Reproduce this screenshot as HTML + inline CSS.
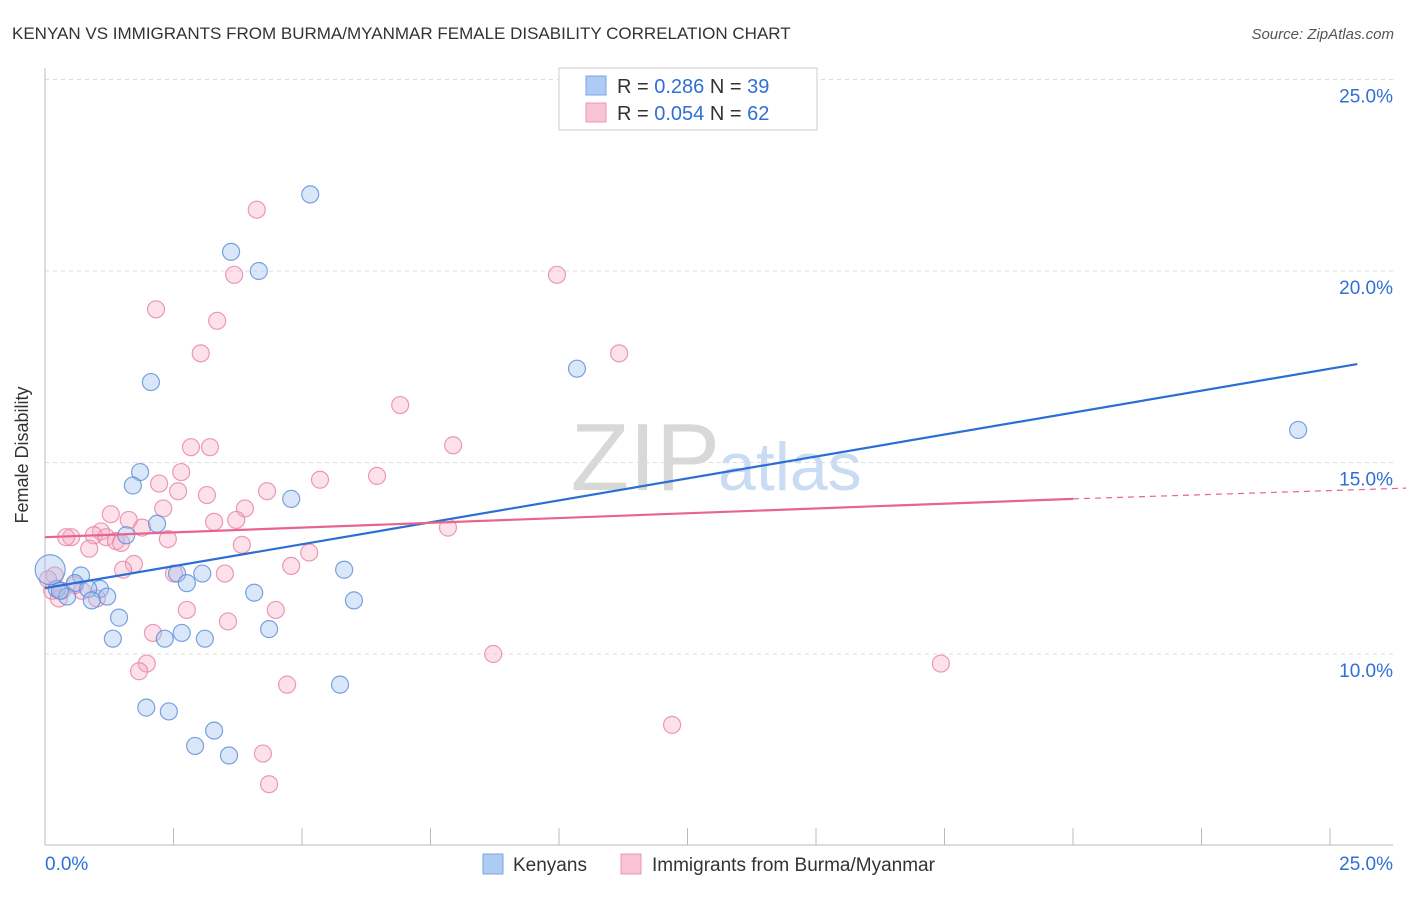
<!DOCTYPE html>
<html><head><meta charset="utf-8"><style>
body{margin:0;background:#fff;font-family:"Liberation Sans",sans-serif;}
svg text{font-family:"Liberation Sans",sans-serif;}
</style></head><body>
<svg id="c" width="1406" height="892" xmlns="http://www.w3.org/2000/svg">
<text x="12" y="39" font-size="17" fill="#333">KENYAN VS IMMIGRANTS FROM BURMA/MYANMAR FEMALE DISABILITY CORRELATION CHART</text>
<text x="1394" y="39" font-size="15" fill="#555" font-style="italic" text-anchor="end">Source: ZipAtlas.com</text>
<text x="720" y="490" font-size="96" fill="#d8d8d8" font-family="Liberation Serif" text-anchor="end">ZIP</text>
<text x="718" y="490" font-size="68" fill="#c9dcf3">atlas</text>
<g id="grid"></g>
<g id="axes"></g>
<g id="pts"></g>
<g id="lines"></g>
<text x="28" y="455" font-size="18" fill="#333" transform="rotate(-90 28 455)" text-anchor="middle">Female Disability</text>
<g>
<rect x="559" y="68" width="258" height="62" fill="#fff" stroke="#ccc"/>
<rect x="586" y="76" width="20" height="19" fill="#aecbf5" stroke="#7aa6e0"/>
<rect x="586" y="103" width="20" height="19" fill="#f8c3d3" stroke="#e897b3"/>
<text x="617" y="93" font-size="20" fill="#333">R = <tspan fill="#2f6fd6">0.286</tspan>   N = <tspan fill="#2f6fd6">39</tspan></text>
<text x="617" y="120" font-size="20" fill="#333">R = <tspan fill="#2f6fd6">0.054</tspan>   N = <tspan fill="#2f6fd6">62</tspan></text>
</g>
<g>
<rect x="483" y="854" width="20" height="20" fill="#aecbf5" stroke="#7aa6e0"/>
<text x="513" y="871" font-size="19" fill="#333">Kenyans</text>
<rect x="621" y="854" width="20" height="20" fill="#f8c3d3" stroke="#e897b3"/>
<text x="652" y="871" font-size="19" fill="#333">Immigrants from Burma/Myanmar</text>
</g>
</svg>
<script>
const yTicks=[10,15,20,25];
const yTickLabels=["10.0%","15.0%","20.0%","25.0%"];
const xTickLabels=["0.0%","25.0%"];
const kenyanX=[5.16,3.62,4.16,2.06,10.35,24.38,1.85,1.71,4.79,2.18,1.58,5.82,2.57,3.06,2.76,4.07,6.01,0.70,0.58,1.07,0.84,0.23,0.43,1.21,0.91,1.44,1.32,2.33,2.66,3.11,4.36,5.74,1.97,2.41,3.29,2.92,3.58,0.10,0.29];
const kenyanY=[22.0,20.5,20.0,17.1,17.45,15.85,14.75,14.4,14.05,13.4,13.1,12.2,12.1,12.1,11.85,11.6,11.4,12.05,11.85,11.7,11.7,11.7,11.5,11.5,11.4,10.95,10.4,10.4,10.55,10.4,10.65,9.2,8.6,8.5,8.0,7.6,7.35,12.2,11.65];
const burmaX=[4.12,9.96,2.16,3.35,3.68,3.03,11.17,6.91,7.94,2.84,3.21,2.65,6.46,5.35,2.22,2.59,3.15,4.32,2.30,3.89,1.28,1.63,3.72,3.29,1.09,1.89,0.51,0.95,1.19,7.84,2.39,1.38,1.48,0.86,3.83,5.14,1.73,1.52,4.79,2.51,3.50,0.19,0.14,0.27,0.72,1.01,2.76,4.49,3.56,2.10,8.72,1.98,1.83,17.43,4.71,12.20,4.24,4.36,0.33,0.58,0.06,0.41];
const burmaY=[21.6,19.9,19.0,18.7,19.9,17.85,17.85,16.5,15.45,15.4,15.4,14.75,14.65,14.55,14.45,14.25,14.15,14.25,13.8,13.8,13.65,13.5,13.5,13.45,13.2,13.3,13.05,13.1,13.05,13.3,13.0,12.95,12.9,12.75,12.85,12.65,12.35,12.2,12.3,12.1,12.1,12.05,11.65,11.45,11.65,11.45,11.15,11.15,10.85,10.55,10.0,9.75,9.55,9.75,9.2,8.15,7.4,6.6,11.65,11.8,11.95,13.05];
const kenyanLine=[[0,11.72],[25.53,17.57]];
const burmaLineSolid=[[0,13.05],[20,14.05]];
const burmaLineDash=[[20,14.05],[26.7,14.34]];
const X=v=>45+v*51.4, Y=v=>654-(v-10)*38.3;
const NS="http://www.w3.org/2000/svg";
function mk(t,a,p){const e=document.createElementNS(NS,t);for(const k in a)e.setAttribute(k,a[k]);p.appendChild(e);return e;}
const grid=document.getElementById('grid'),axes=document.getElementById('axes'),pts=document.getElementById('pts'),lines=document.getElementById('lines');
yTicks.forEach((t,i)=>{
 const l=mk('line',{x1:45,x2:1393,y1:Y(t),y2:Y(t),stroke:'#ddd','stroke-dasharray':'4,4'},grid);
 
 
 const tx=mk('text',{x:1393,y:Y(t)+23,'font-size':19,fill:'#2f6fd6','text-anchor':'end'},axes);
 tx.textContent=yTickLabels[i];
 
 
});
const ya=mk('line',{x1:45,x2:45,y1:68,y2:845,stroke:'#bbb'},axes);


const xa=mk('line',{x1:45,x2:1393,y1:845,y2:845,stroke:'#bbb'},axes);


for(let i=0;i<=10;i++){const tk=mk('line',{x1:X(i*2.5),x2:X(i*2.5),y1:828,y2:845,stroke:'#bbb'},axes);
 
 }
[[0,'start',45],[25,'end',1393]].forEach((d,i)=>{const t=mk('text',{x:d[2],y:870,'font-size':19,fill:'#2f6fd6','text-anchor':d[1]},axes);t.textContent=xTickLabels[i];
 
 });
burmaX.forEach((x,i)=>{const c=mk('circle',{cx:X(x),cy:Y(burmaY[i]),r:8.5,fill:'rgba(245,170,195,0.35)',stroke:'rgba(230,130,165,0.8)','stroke-width':1.2},pts);
 
 });
kenyanX.forEach((x,i)=>{const c=mk('circle',{cx:X(x),cy:Y(kenyanY[i]),r:i==37?15:8.5,fill:'rgba(160,195,240,0.4)',stroke:'rgba(90,140,215,0.8)','stroke-width':1.2},pts);
 
 });
function ln(d,col,dash,name){const l=mk('line',{x1:X(d[0][0]),y1:Y(d[0][1]),x2:X(d[1][0]),y2:Y(d[1][1]),stroke:col,'stroke-width':2.2},lines);if(dash){l.setAttribute('stroke-dasharray','6,5');l.setAttribute('stroke-width',1.2);}
 
 }
ln(kenyanLine,'#2b6fd6',false,'kenyan-trend-line');
ln(burmaLineSolid,'#e8648f',false,'burma-trend-line');
ln(burmaLineDash,'#e8648f',true,'burma-trend-extension');
</script>
</body></html>
